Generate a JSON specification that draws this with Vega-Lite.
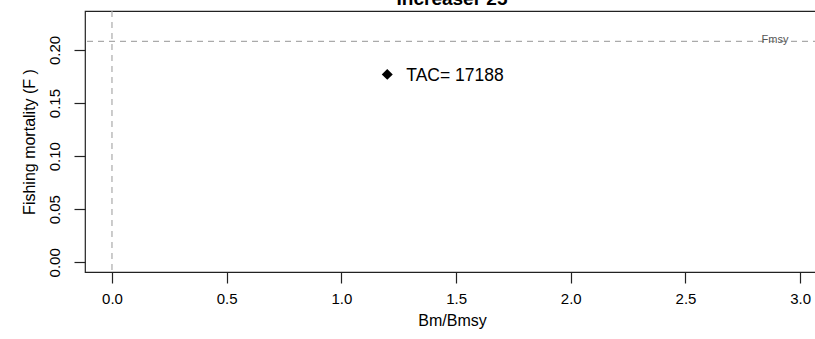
{
  "$schema": "https://vega.github.io/schema/vega-lite/v6.json",
  "autosize": "none",
  "padding": {"left": 85, "top": 11, "right": 0, "bottom": 67},
  "width": 734,
  "height": 261,
  "background": "white",
  "title": {
    "text": "Increaser 25",
    "anchor": "middle",
    "frame": "group",
    "font": "Liberation Sans",
    "fontSize": 19,
    "fontWeight": "bold",
    "color": "#000000",
    "baseline": "alphabetic",
    "offset": 0,
    "dy": 14
  },
  "config": {
    "view": {"stroke": "#222222", "strokeWidth": 1.2},
    "axis": {
      "domain": false,
      "grid": false,
      "tickColor": "#222222",
      "tickWidth": 1.2,
      "tickSize": 11,
      "labelFont": "Liberation Sans",
      "labelFontSize": 15,
      "labelColor": "#000000",
      "titleFont": "Liberation Sans",
      "titleFontSize": 16,
      "titleFontWeight": "normal",
      "titleColor": "#000000"
    }
  },
  "datasets": {
    "point": [{"BmBmsy": 1.2, "F": 0.177, "label": "TAC= 17188"}],
    "fmsy": [{"F": 0.208, "BmBmsy": 2.89, "label": "Fmsy"}],
    "origin": [{"BmBmsy": 0}]
  },
  "layer": [
    {
      "data": {"name": "origin"},
      "mark": {"type": "rule", "color": "#aaaaaa", "strokeWidth": 1.2, "strokeDash": [6, 5]},
      "encoding": {
        "x": {
          "field": "BmBmsy",
          "type": "quantitative",
          "scale": {"domain": [-0.1176, 3.082], "nice": false, "zero": false},
          "axis": {
            "title": "Bm/Bmsy",
            "values": [0, 0.5, 1, 1.5, 2, 2.5, 3],
            "format": ".1f",
            "labelPadding": 8,
            "titlePadding": 6,
            "labelFlush": false
          }
        }
      }
    },
    {
      "data": {"name": "fmsy"},
      "mark": {"type": "rule", "color": "#aaaaaa", "strokeWidth": 1.2, "strokeDash": [6, 5]},
      "encoding": {
        "y": {
          "field": "F",
          "type": "quantitative",
          "scale": {"domain": [-0.0091, 0.2367], "nice": false, "zero": false},
          "axis": {
            "title": "Fishing mortality (F )",
            "values": [0, 0.05, 0.1, 0.15, 0.2],
            "format": ".2f",
            "labelAngle": -90,
            "labelAlign": "center",
            "labelBaseline": "bottom",
            "labelPadding": 12,
            "titlePadding": 10,
            "labelFlush": false
          }
        }
      }
    },
    {
      "data": {"name": "fmsy"},
      "mark": {"type": "text", "font": "Liberation Sans", "fontSize": 11, "color": "#555555", "baseline": "bottom", "align": "center", "dy": 4},
      "encoding": {
        "x": {"field": "BmBmsy", "type": "quantitative"},
        "y": {"field": "F", "type": "quantitative"},
        "text": {"field": "label"}
      }
    },
    {
      "data": {"name": "point"},
      "mark": {"type": "point", "shape": "diamond", "filled": true, "color": "#000000", "opacity": 1, "size": 120},
      "encoding": {
        "x": {"field": "BmBmsy", "type": "quantitative"},
        "y": {"field": "F", "type": "quantitative"}
      }
    },
    {
      "data": {"name": "point"},
      "mark": {"type": "text", "font": "Liberation Sans", "fontSize": 17.5, "color": "#000000", "align": "left", "baseline": "middle", "dx": 19, "dy": 2},
      "encoding": {
        "x": {"field": "BmBmsy", "type": "quantitative"},
        "y": {"field": "F", "type": "quantitative"},
        "text": {"field": "label"}
      }
    }
  ]
}
